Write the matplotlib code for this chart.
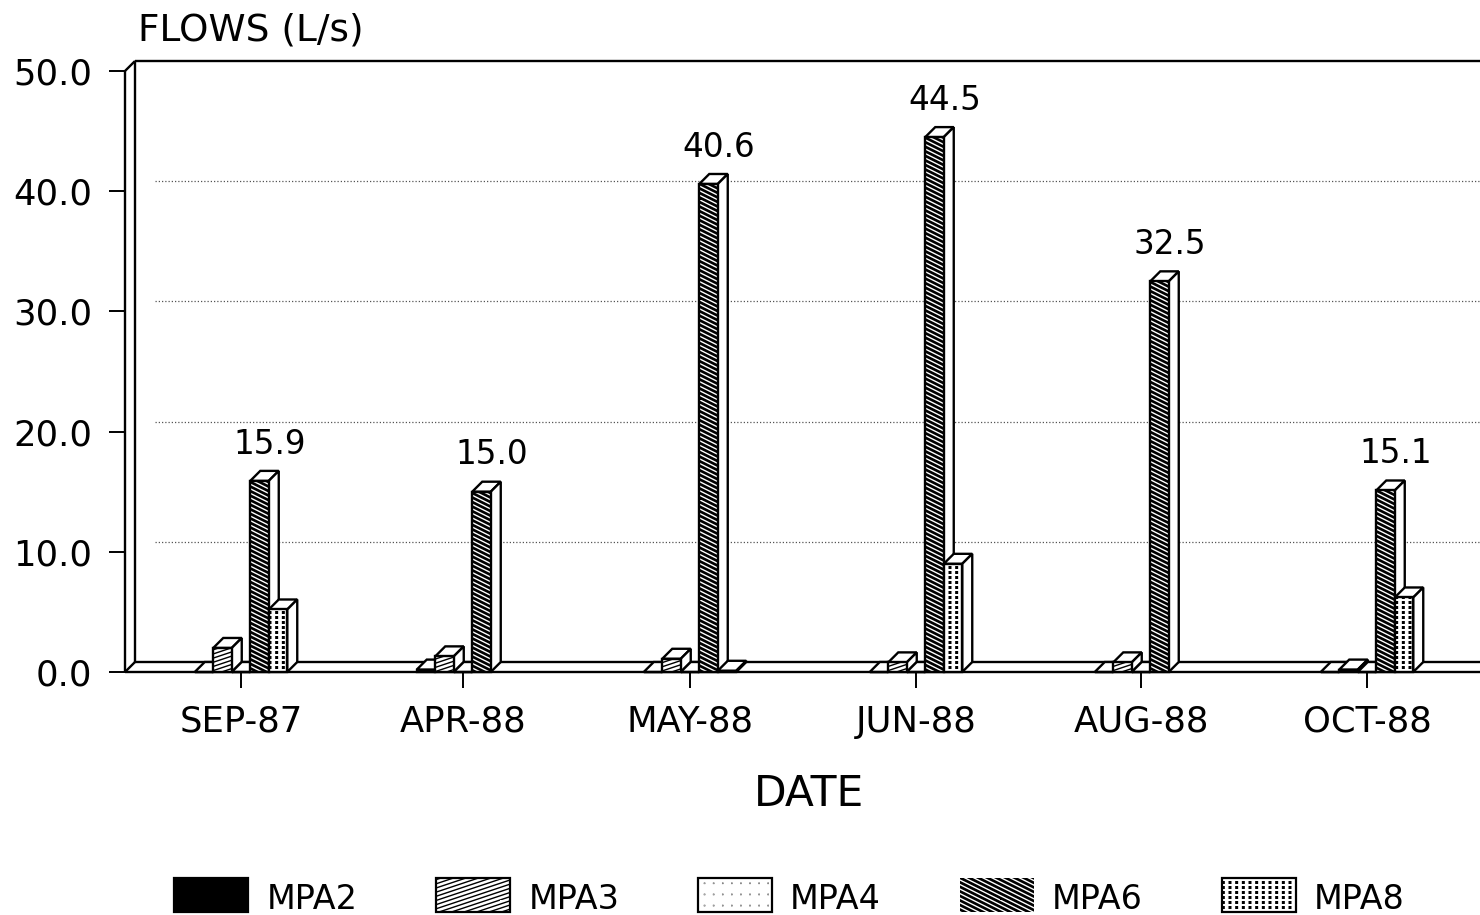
import numpy as np
import matplotlib
matplotlib.use("Agg")
import matplotlib.pyplot as plt
import matplotlib.hatch as mhatch
from matplotlib.legend_handler import HandlerPatch
from matplotlib.path import Path
from matplotlib.patches import Patch

dates = ["SEP-87", "APR-88", "MAY-88", "JUN-88", "AUG-88", "OCT-88"]
mpa2 = [0.0, 0.2, 0.0, 0.0, 0.0, 0.0]
mpa3 = [2.0, 1.3, 1.1, 0.8, 0.8, 0.2]
mpa4 = [0.0, 0.0, 0.0, 0.0, 0.0, 0.0]
mpa6 = [15.9, 15.0, 40.6, 44.5, 32.5, 15.1]
mpa8 = [5.2, None, 0.1, 9.0, None, 6.2]
names = ["MPA2", "MPA3", "MPA4", "MPA6", "MPA8"]
series = [mpa2, mpa3, mpa4, mpa6, mpa8]
labelled = mpa6
yticks = [0, 10, 20, 30, 40, 50]


# shallow-angle stripes and square dot lattices, which the stock hatches lack
class Stripes(mhatch.HatchPatternBase):
    char, n, sign, rise = "x", 24, 1, 3

    def __init__(self, hatch, density):
        self.on = hatch.count(self.char) > 0
        self.num_vertices = (self.n + self.n // self.rise) * 2 if self.on else 0

    def set_vertices_and_codes(self, vertices, codes):
        for i, k in enumerate(range(-self.n // self.rise, self.n)):
            y0, y1 = k / self.n, k / self.n + 1 / self.rise
            if self.sign < 0:
                y0, y1 = 1 - y0, 1 - y1
            vertices[2 * i], vertices[2 * i + 1] = (0, y0), (1, y1)
            codes[2 * i], codes[2 * i + 1] = Path.MOVETO, Path.LINETO


class DownStripes(Stripes):
    char, n, sign, rise = "+", 22, -1, 2


class Dots(mhatch.HatchPatternBase):
    char, nx, ny, h = "*", 15, 20, 0.008
    filled = True

    def __init__(self, hatch, density):
        self.on = hatch.count(self.char) > 0
        self.num_vertices = self.nx * self.ny * 5 if self.on else 0

    def set_vertices_and_codes(self, vertices, codes):
        h = self.h
        i = 0
        for a in range(self.nx):
            for b in range(self.ny):
                cx, cy = (a + 0.5) / self.nx, (b + 0.5) / self.ny
                vertices[i:i + 5] = [(cx - h, cy - h), (cx + h, cy - h), (cx + h, cy + h),
                                     (cx - h, cy + h), (cx - h, cy - h)]
                codes[i:i + 5] = [Path.MOVETO, Path.LINETO, Path.LINETO, Path.LINETO, Path.CLOSEPOLY]
                i += 5


class SparseDots(Dots):
    char, nx, ny, h = "o", 11, 9, 0.0005


mhatch._hatch_types[:] = [Stripes, DownStripes, Dots, SparseDots]

W, H = 1480, 915
plt.rcParams["font.family"] = "DejaVu Sans"
plt.rcParams["hatch.linewidth"] = 1.0
hatches = [None, "x", "o", "+", "*"]
faces = ["black", "white", "white", "black", "white"]
edges = ["black", "black", "black", "white", "black"]
edge_w = [1.6, 1.6, 1.6, 0, 1.6]

fig = plt.figure(figsize=(W / 100, H / 100), dpi=100, facecolor="white")
ax = fig.add_axes([125 / W, (H - 672) / H, (W - 125) / W, (672 - 71) / H])
px_x, px_y = 225.2, 601 / 50
ax.set_xlim(-116 / px_x, (W - 241) / px_x)
ax.set_ylim(0, 50)
for s in ax.spines.values():
    s.set_visible(False)
dx, dy = 10 / px_x, 10 / px_y
bw = 18.5 / px_x
x0, x1 = ax.get_xlim()
lw = 1.7

kw = dict(color="black", lw=lw, clip_on=False, zorder=2, solid_capstyle="butt")
ax.plot([x0, x1], [0, 0], **kw)
ax.plot([x0 + dx, x1], [dy, dy], **kw)
ax.plot([x0, x0], [0, 50], **kw)
ax.plot([x0 + dx, x0 + dx], [dy, 50 + dy], **kw)
ax.plot([x0 + dx, x1], [50 + dy, 50 + dy], **kw)
ax.plot([x0, x0 + dx], [50, 50 + dy], **kw)
ax.plot([x0, x0 + dx], [0, dy], **kw)
for t in yticks[1:-1]:
    ax.plot([x0 + 30 / px_x, x1], [t + dy, t + dy], color="#555555", lw=0.9,
            ls=(0, (1, 1.6)), zorder=1)

# the drawn groups are not quite evenly spaced on the page
tick_px = np.array([241, 463, 690, 916, 1141, 1367])
xs = (tick_px - 241) / px_x
for k, (vals, hatch, face, edge) in enumerate(zip(series, hatches, faces, edges)):
    off = (k - 2) * bw
    z = 3 + k
    for x, v in zip(xs, vals):
        if v is None:
            continue
        l, r = x + off - bw / 2, x + off + bw / 2
        ax.fill([l, r, r + dx, l + dx], [v, v, v + dy, v + dy], fc="white",
                ec="black", lw=lw, zorder=z, clip_on=False)
        ax.fill([r, r + dx, r + dx, r], [0, dy, v + dy, v], fc="white",
                ec="black", lw=lw, zorder=z, clip_on=False)
        ax.bar(x + off, v, width=bw, facecolor=face, edgecolor=edge, hatch=hatch,
               lw=0, zorder=z + 0.4, clip_on=False)
        ax.bar(x + off, v, width=bw, fill=False, edgecolor="black",
               lw=lw, zorder=z + 0.5, clip_on=False)

for x, v in zip(xs, labelled):
    ax.annotate(f"{v:.1f}", (x + bw + dx, v + dy), xytext=(0, 12.5),
                textcoords="offset points", ha="center", va="baseline", fontsize=23.5,
                zorder=20, annotation_clip=False)

ax.set_xticks(xs, dates)
ax.set_yticks(yticks, [f"{t:.1f}" for t in yticks])
ax.tick_params(axis="x", length=11.5, width=1.4, pad=12, labelsize=25.5)
ax.tick_params(axis="y", length=11.5, width=1.4, pad=12, labelsize=25.5)

fig.text(138 / W, (H - 41) / H, "FLOWS (L/s)", fontsize=27, ha="left", va="baseline")
fig.text(809 / W, (H - 806) / H, "DATE", fontsize=30.5, ha="center", va="baseline")

handles = [Patch(facecolor=f, edgecolor=e, hatch=h, lw=w)
           for f, e, h, w in zip(faces, edges, hatches, edge_w)]
fig.legend(handles, names, loc="lower left", bbox_to_anchor=(174 / W, -2 / H), ncols=5,
           frameon=False, fontsize=24, handlelength=2.22, handleheight=1.42, handletextpad=0.55,
           columnspacing=2.36, borderpad=0, borderaxespad=0,
           handler_map={Patch: HandlerPatch(ypad=0.16)})

fig.savefig("out.png", dpi=100)
